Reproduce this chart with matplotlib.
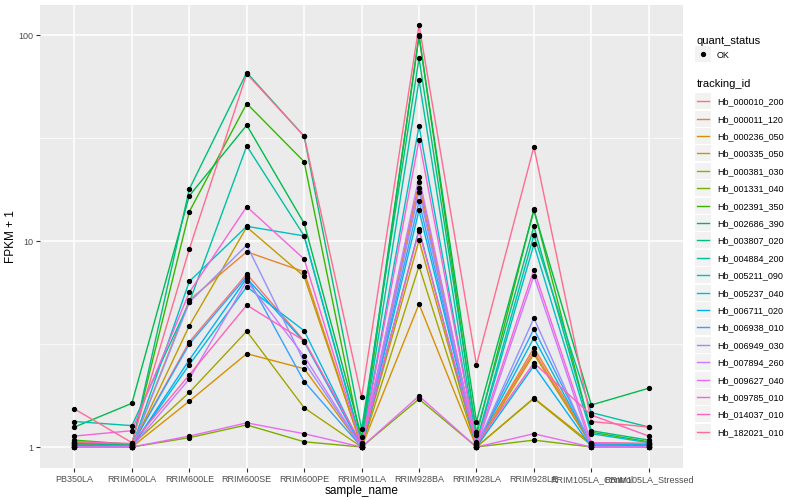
import numpy as np
import matplotlib
matplotlib.use("Agg")
from matplotlib import pyplot as plt
from matplotlib.lines import Line2D
from matplotlib.patches import Rectangle

plt.rcParams['font.family'] = ['Liberation Sans', 'DejaVu Sans']

samples = ["PB350LA", "RRIM600LA", "RRIM600LE", "RRIM600SE", "RRIM600PE", "RRIM901LA",
           "RRIM928BA", "RRIM928LA", "RRIM928LE", "RRIM105LA_Control", "RRIM105LA_Stressed"]

tracking_ids = ["Hb_000010_200", "Hb_000011_120", "Hb_000236_050", "Hb_000335_050",
                "Hb_000381_030", "Hb_001331_040", "Hb_002391_350", "Hb_002686_390",
                "Hb_003807_020", "Hb_004884_200", "Hb_005211_090", "Hb_005237_040",
                "Hb_006711_020", "Hb_006938_010", "Hb_006949_030", "Hb_007894_260",
                "Hb_009627_040", "Hb_009785_010", "Hb_014037_010", "Hb_182021_010"]

# FPKM + 1, one list per gene, in the order of samples
hb_000010_200 = [1.05, 1.02, 3.24, 6.92, 3.28, 1.02, 18.2, 1.03, 2.91, 1.03, 1.02]
hb_000011_120 = [1.04, 1.00, 5.17, 8.87, 7.10, 1.00, 19.4, 1.02, 3.03, 1.05, 1.04]
hb_000236_050 = [1.02, 1.00, 1.67, 2.84, 2.40, 1.00, 4.95, 1.00, 1.73, 1.04, 1.02]
hb_000335_050 = [1.03, 1.00, 3.88, 11.7, 6.74, 1.00, 10.1, 1.00, 2.83, 1.02, 1.03]
hb_000381_030 = [1.06, 1.02, 1.84, 3.65, 1.55, 1.00, 7.56, 1.00, 1.72, 1.02, 1.00]
hb_001331_040 = [1.00, 1.00, 1.11, 1.28, 1.06, 1.00, 1.71, 1.00, 1.08, 1.00, 1.00]
hb_002391_350 = [1.08, 1.03, 13.9, 46.6, 24.3, 1.04, 100.0, 1.14, 14.3, 1.18, 1.06]
hb_002686_390 = [1.25, 1.63, 16.6, 36.6, 12.2, 1.12, 99.0, 1.33, 14.1, 1.60, 1.93]
hb_003807_020 = [1.04, 1.02, 17.9, 65.9, 32.3, 1.22, 77.3, 1.18, 11.8, 1.20, 1.08]
hb_004884_200 = [1.33, 1.27, 5.04, 29.0, 10.6, 1.04, 60.5, 1.06, 10.7, 1.47, 1.25]
hb_005211_090 = [1.02, 1.00, 6.37, 11.8, 10.6, 1.02, 36.2, 1.04, 9.64, 1.16, 1.05]
hb_005237_040 = [1.00, 1.00, 2.51, 6.00, 3.67, 1.00, 14.1, 1.02, 3.39, 1.02, 1.03]
hb_006711_020 = [1.02, 1.00, 2.65, 6.60, 3.24, 1.00, 11.4, 1.00, 2.48, 1.00, 1.02]
hb_006938_010 = [1.00, 1.02, 3.16, 6.74, 2.08, 1.00, 15.6, 1.02, 3.75, 1.03, 1.00]
hb_006949_030 = [1.00, 1.00, 5.04, 9.56, 2.59, 1.00, 17.4, 1.00, 4.23, 1.00, 1.00]
hb_007894_260 = [1.00, 1.00, 2.14, 6.40, 2.76, 1.00, 20.5, 1.00, 6.78, 1.00, 1.00]
hb_009627_040 = [1.00, 1.00, 1.13, 1.31, 1.16, 1.00, 1.77, 1.00, 1.16, 1.00, 1.00]
hb_009785_010 = [1.13, 1.20, 5.64, 14.7, 8.18, 1.02, 31.0, 1.04, 7.26, 1.05, 1.04]
hb_014037_010 = [1.06, 1.04, 2.24, 4.89, 3.28, 1.03, 11.2, 1.03, 2.56, 1.43, 1.13]
hb_182021_010 = [1.53, 1.05, 9.15, 65.0, 32.3, 1.74, 111.9, 2.51, 28.7, 1.33, 1.25]

series = [hb_000010_200, hb_000011_120, hb_000236_050, hb_000335_050, hb_000381_030,
          hb_001331_040, hb_002391_350, hb_002686_390, hb_003807_020, hb_004884_200,
          hb_005211_090, hb_005237_040, hb_006711_020, hb_006938_010, hb_006949_030,
          hb_007894_260, hb_009627_040, hb_009785_010, hb_014037_010, hb_182021_010]

# ggplot hue palette, 20 levels
cores = ["#F8766D", "#EA8331", "#D89000", "#C09B00", "#A3A500", "#7CAE00", "#39B600",
         "#00BB4E", "#00BF7D", "#00C1A3", "#00BFC4", "#00BAE0", "#00B0F6", "#35A2FF",
         "#9590FF", "#C77CFF", "#E76BF3", "#FA62DB", "#FF62BC", "#FF6C91"]

fig = plt.figure(figsize=(8, 5), dpi=100)
ax = fig.add_axes([0.05, 0.064, 0.804, 0.926])
ax.set_facecolor("#EBEBEB")

x = np.arange(len(samples))
for vals, cor, nome in zip(series, cores, tracking_ids):
    ax.plot(x, vals, color=cor, lw=1.0, label=nome, zorder=2)
for vals in series:
    ax.plot(x, vals, ls="none", marker="o", ms=2.8, color="black", zorder=3)

ax.set_yscale("log")
ax.set_ylim(10 ** -0.102, 10 ** 2.147)
ax.set_xlim(-0.6, len(samples) - 0.4)
ax.set_yticks([1, 10, 100])
ax.set_yticklabels(["1", "10", "100"])
ax.set_yticks([10 ** 0.5, 10 ** 1.5], minor=True)
ax.yaxis.set_minor_formatter(plt.NullFormatter())
ax.set_xticks(x)
ax.set_xticklabels(samples)

ax.grid(True, which="major", color="white", lw=1.1, zorder=0)
ax.grid(True, which="minor", axis="y", color="white", lw=0.5, zorder=0)
ax.set_axisbelow(True)
for s in ax.spines.values():
    s.set_visible(False)
ax.tick_params(which="major", length=3, width=0.8, color="#333333", labelsize=6.5,
               labelcolor="#4D4D4D", pad=2)
ax.tick_params(which="minor", length=0)

ax.set_xlabel("sample_name", fontsize=8.5, labelpad=1)
ax.set_ylabel("FPKM + 1", fontsize=8.5)
ax.yaxis.set_label_coords(-0.036, 0.5)

# legendas
ponto = [Line2D([0], [0], ls="none", marker="o", ms=2.8, color="black")]
leg1 = fig.legend(ponto, ["OK"], title="quant_status", loc="upper left",
                  bbox_to_anchor=(0.871, 0.928), frameon=False, fontsize=6.5,
                  title_fontsize=8, handlelength=1.4, handletextpad=0.85,
                  borderaxespad=0, borderpad=0)
leg1._legend_box.align = "left"

linhas = [Line2D([0], [0], color=c, lw=1.0) for c in cores]
leg2 = fig.legend(linhas, tracking_ids, title="tracking_id", loc="upper left",
                  bbox_to_anchor=(0.871, 0.842), frameon=False, fontsize=6.5,
                  title_fontsize=8, handlelength=1.4, handletextpad=0.85,
                  labelspacing=0.93, borderaxespad=0, borderpad=0)
leg2._legend_box.align = "left"

# caixas cinza atrás das chaves da legenda
fig.canvas.draw()
renderer = fig.canvas.get_renderer()
W, H = fig.bbox.width, fig.bbox.height
for h in list(leg1.legend_handles) + list(leg2.legend_handles):
    bb = h.get_window_extent(renderer)
    cx, cy = (bb.x0 + bb.x1) / 2, (bb.y0 + bb.y1) / 2
    fig.patches.append(Rectangle(((cx - 8) / W, (cy - 8) / H), 16 / W, 16 / H,
                                 transform=fig.transFigure, facecolor="#F2F2F2",
                                 edgecolor="none", zorder=0))

fig.savefig("out.png", dpi=100)
